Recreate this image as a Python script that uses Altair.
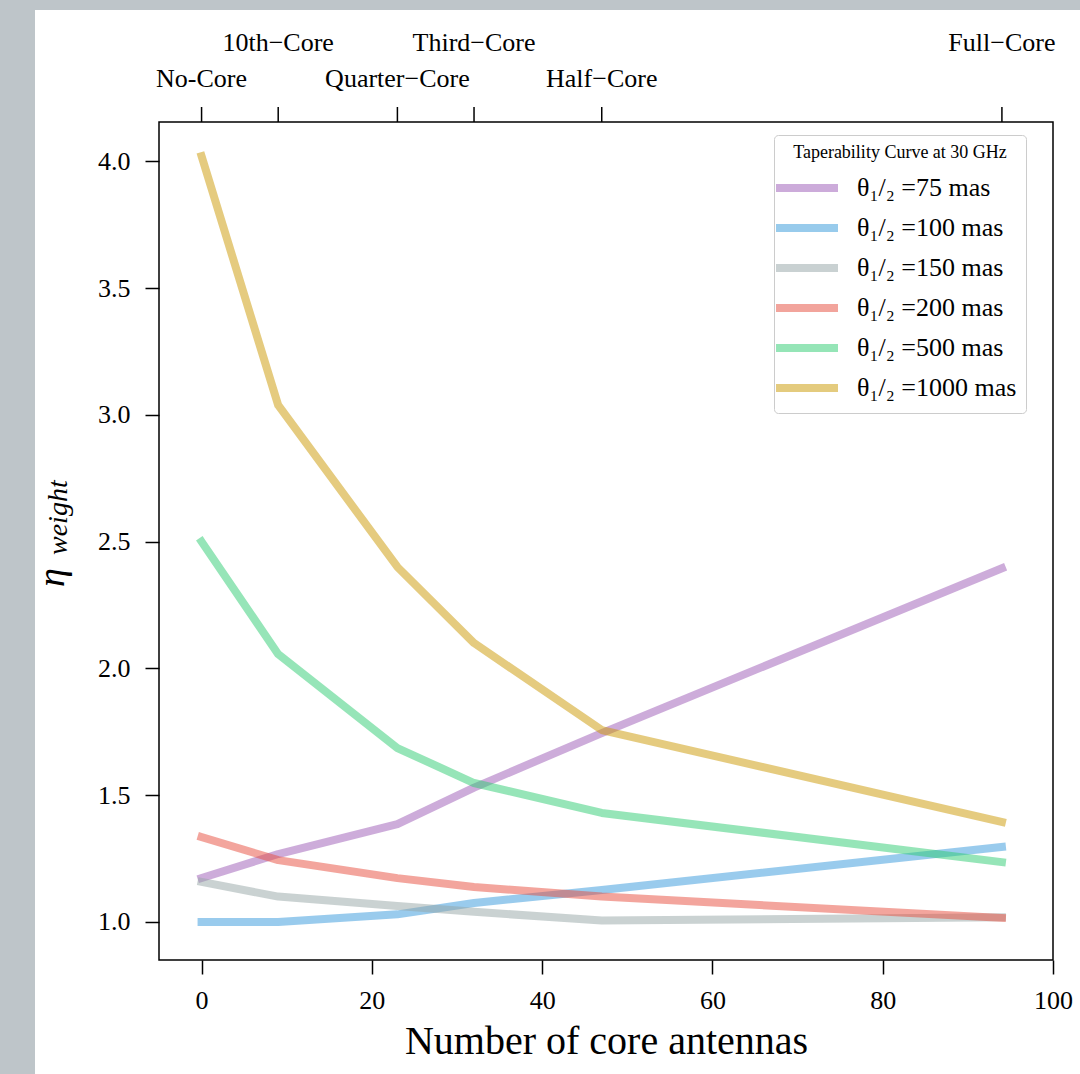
import altair as alt
import pandas as pd

# ---------------- data ----------------
core_x = [0, 9, 23, 32, 47, 94]
series_names = [
    "θ₁/₂ =75 mas",
    "θ₁/₂ =100 mas",
    "θ₁/₂ =150 mas",
    "θ₁/₂ =200 mas",
    "θ₁/₂ =500 mas",
    "θ₁/₂ =1000 mas",
]
eta_75 = [1.173, 1.268, 1.386, 1.530, 1.745, 2.395]
eta_100 = [1.000, 1.000, 1.030, 1.075, 1.126, 1.296]
eta_150 = [1.158, 1.100, 1.063, 1.040, 1.006, 1.018]
eta_200 = [1.335, 1.244, 1.173, 1.138, 1.100, 1.016]
eta_500 = [2.500, 2.056, 1.686, 1.548, 1.430, 1.236]
eta_1000 = [4.020, 3.038, 2.400, 2.100, 1.757, 1.394]
series_colors = ["#9b59b6", "#3498db", "#95a5a6", "#e74c3c", "#2ecc71", "#cb9800"]

top_labels = ["No-Core", "10th−Core", "Quarter−Core", "Third−Core", "Half−Core", "Full−Core"]
top_rows = [0, 1, 0, 1, 0, 1]

x_ticks = [0, 20, 40, 60, 80, 100]
y_ticks = [1.0, 1.5, 2.0, 2.5, 3.0, 3.5, 4.0]

# ---------------- frames ----------------
all_y = [eta_75, eta_100, eta_150, eta_200, eta_500, eta_1000]
rows = []
for name, ys in zip(series_names, all_y):
    for xv, yv in zip(core_x, ys):
        rows.append({"cores": xv, "eta": yv, "series": name})
df = pd.DataFrame(rows)

top_df = pd.DataFrame({"cores": core_x, "label": top_labels, "row": top_rows})

FONT = "Liberation Serif"
W, H = 894, 838

xscale = alt.Scale(domain=[-5, 100], nice=False, zero=False)
yscale = alt.Scale(domain=[0.85, 4.155], nice=False, zero=False)

one = pd.DataFrame({"a": [0]})

# grey strips of the outer canvas
strip_left = alt.Chart(one).mark_rect(color="#bec5c9").encode(
    x=alt.value(-159), x2=alt.value(-124), y=alt.value(-122), y2=alt.value(952)
)
strip_top = alt.Chart(one).mark_rect(color="#bec5c9").encode(
    x=alt.value(-159), x2=alt.value(921), y=alt.value(-122), y2=alt.value(-112)
)

lines = alt.Chart(df).mark_line(
    strokeWidth=8, opacity=0.5, strokeCap="square", strokeJoin="round"
).encode(
    x=alt.X(
        "cores:Q",
        scale=xscale,
        axis=alt.Axis(
            values=x_ticks,
            format="d",
            title="Number of core antennas",
            titleFont=FONT,
            titleFontSize=40,
            titleFontWeight="normal",
            titleColor="black",
            titlePadding=8,
            labelFont=FONT,
            labelFontSize=26,
            labelColor="black",
            labelPadding=13,
            labelFlush=False,
            tickSize=14,
            tickWidth=1.5,
            tickColor="black",
            domain=False,
            grid=False,
            zindex=1,
        ),
    ),
    y=alt.Y(
        "eta:Q",
        scale=yscale,
        axis=alt.Axis(
            values=y_ticks,
            format=".1f",
            title=None,
            labelFont=FONT,
            labelFontSize=26,
            labelColor="black",
            labelPadding=15,
            labelFlush=False,
            tickSize=14,
            tickWidth=1.5,
            tickColor="black",
            domain=False,
            grid=False,
            zindex=1,
        ),
    ),
    color=alt.Color(
        "series:N",
        sort=series_names,
        scale=alt.Scale(domain=series_names, range=series_colors),
        legend=alt.Legend(
            title="Taperability Curve at 30 GHz",
            orient="none",
            legendX=615,
            legendY=13,
            titleFont=FONT,
            titleFontSize=18,
            titleFontWeight="normal",
            titleColor="black",
            titleAnchor="middle",
            titlePadding=2,
            titleLimit=600,
            labelFont=FONT,
            labelFontSize=26,
            labelColor="black",
            labelOffset=26,
            labelLimit=600,
            symbolType="M-1.55,0H1.55",
            symbolSize=1600,
            symbolStrokeWidth=8,
            symbolOpacity=0.5,
            rowPadding=0,
            padding=9,
            fillColor="white",
            strokeColor="#cccccc",
            cornerRadius=4,
        ),
    ),
    order=alt.Order("cores:Q"),
)

# top secondary tick marks and labels
top_ticks = alt.Chart(top_df).mark_rule(color="black", strokeWidth=1.5).encode(
    x=alt.X("cores:Q", scale=xscale),
    y=alt.value(-15),
    y2=alt.value(0),
)
top_text_low = alt.Chart(top_df).transform_filter("datum.row == 0").mark_text(
    font=FONT, fontSize=26, color="black", align="center", baseline="alphabetic"
).encode(x=alt.X("cores:Q", scale=xscale), y=alt.value(-35), text="label:N")
top_text_high = alt.Chart(top_df).transform_filter("datum.row == 1").mark_text(
    font=FONT, fontSize=26, color="black", align="center", baseline="alphabetic"
).encode(x=alt.X("cores:Q", scale=xscale), y=alt.value(-71), text="label:N")

# y-axis title: eta with subscript "weight"
ytitle_eta = alt.Chart(one).mark_text(
    font=FONT, fontSize=38, fontStyle="italic", color="black", angle=270,
    align="left", baseline="alphabetic"
).encode(x=alt.value(-95), y=alt.value(465), text=alt.value("η"))
ytitle_sub = alt.Chart(one).mark_text(
    font=FONT, fontSize=28, fontStyle="italic", color="black", angle=270,
    align="left", baseline="alphabetic"
).encode(x=alt.value(-92), y=alt.value(433), text=alt.value("weight"))

chart = alt.layer(
    strip_left, strip_top, lines, top_ticks, top_text_low, top_text_high,
    ytitle_eta, ytitle_sub
).properties(
    width=W,
    height=H,
    background="white",
    padding={"left": 159, "top": 122, "right": 27, "bottom": 114},
    autosize=alt.AutoSizeParams(type="none"),
).configure_view(
    stroke="black", strokeWidth=1.5
)

chart.save("out.html", embed_options={"renderer": "svg", "actions": False})
